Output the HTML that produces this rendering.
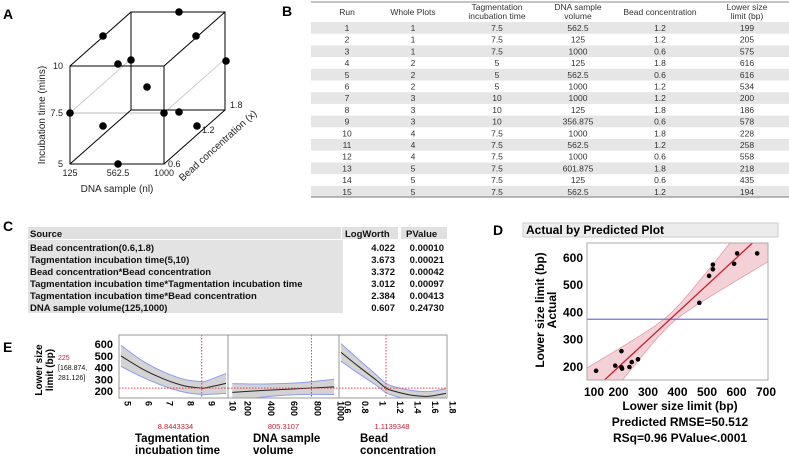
<!DOCTYPE html>
<html><head><meta charset="utf-8"><style>
html,body{margin:0;padding:0;background:#fff;}
svg{display:block;font-family:"Liberation Sans",Arial,sans-serif;}
.b{font-weight:bold;}
</style></head><body>
<svg id="fig" width="789" height="459" viewBox="0 0 789 459" xmlns="http://www.w3.org/2000/svg">
<!-- Panel A -->
<g>
<text x="3" y="19" class="b" font-size="14">A</text>
<g stroke="#000" stroke-width="1" fill="none">
<line x1="70" y1="113" x2="131" y2="59" stroke="#ccc"/>
<line x1="164" y1="113" x2="225" y2="59" stroke="#ccc"/>
<line x1="70" y1="113" x2="164" y2="113" stroke="#bbb"/>
<polyline points="131,110 131,12 225,12 225,110 131,110"/>
<line x1="70" y1="66" x2="131" y2="12"/>
<line x1="164" y1="66" x2="225" y2="12"/>
<line x1="164" y1="164" x2="225" y2="110"/>
<line x1="70" y1="164" x2="131" y2="110"/>
<rect x="70" y="66" width="94" height="98"/>
</g>
<g id="cubeDots"></g>
<g font-size="9" fill="#222">
<text x="63" y="69" text-anchor="end">10</text>
<text x="63" y="116" text-anchor="end">7.5</text>
<text x="63" y="167" text-anchor="end">5</text>
<text x="70" y="176" text-anchor="middle">125</text>
<text x="118" y="176" text-anchor="middle">562.5</text>
<text x="164" y="176" text-anchor="middle">1000</text>
<text x="168" y="167">0.6</text>
<text x="202" y="133">1.2</text>
<text x="230" y="108">1.8</text>
<text x="117" y="192" text-anchor="middle" font-size="10">DNA sample (nl)</text>
<text transform="translate(45,115) rotate(-90)" text-anchor="middle" font-size="10">Incubation time (mins)</text>
<text transform="translate(220,148) rotate(-42)" text-anchor="middle" font-size="10">Bead concentration (x)</text>
</g>
</g>
<!-- Panel B -->
<g>
<text x="282" y="16" class="b" font-size="14">B</text>
<line x1="311" y1="2" x2="789" y2="2" stroke="#888" stroke-width="1"/>
<g id="tbl" font-size="8.5" fill="#333"></g>
<line x1="311" y1="197" x2="789" y2="197" stroke="#777" stroke-width="1"/>
</g>
<!-- Panel C -->
<g>
<text x="3" y="231" class="b" font-size="14">C</text>
<rect x="28" y="227" width="313" height="12" fill="#e0e0e0"/>
<rect x="342" y="227" width="56" height="12" fill="#e0e0e0"/>
<rect x="401" y="227" width="46" height="12" fill="#e0e0e0"/>
<rect x="28" y="240" width="315" height="73" fill="#e3e3e3"/>
<g id="ctbl" class="b" font-size="9.5" fill="#111"></g>
</g>
<!-- Panel D -->
<g>
<text x="493" y="235" class="b" font-size="14">D</text>
<rect x="523" y="223" width="255" height="14" fill="#ececec" stroke="#ccc"/>
<text x="526" y="234" class="b" font-size="12">Actual by Predicted Plot</text>
<g id="dplot"></g>
<text x="680" y="410" text-anchor="middle" class="b" font-size="12">Lower size limit (bp)</text>
<text x="680" y="426" text-anchor="middle" class="b" font-size="12">Predicted RMSE=50.512</text>
<text x="680" y="442" text-anchor="middle" class="b" font-size="12">RSq=0.96 PValue&lt;.0001</text>
<text transform="translate(544,310) rotate(-90)" text-anchor="middle" class="b" font-size="12">Lower size limit (bp)</text>
<text transform="translate(556,310) rotate(-90)" text-anchor="middle" class="b" font-size="12">Actual</text>
</g>
<!-- Panel E -->
<g>
<text x="3" y="352" class="b" font-size="14">E</text>
<text transform="translate(42,370) rotate(-90)" text-anchor="middle" class="b" font-size="10">Lower size</text>
<text transform="translate(53,370) rotate(-90)" text-anchor="middle" class="b" font-size="10">limit (bp)</text>
<text x="58" y="360" font-size="7" fill="#c0203a">225</text>
<text x="58" y="370" font-size="7" fill="#111">[168.874,</text>
<text x="58" y="380" font-size="7" fill="#111">281.126]</text>
<g id="eplot"></g>
</g>
</svg>
<script>
const NS="http://www.w3.org/2000/svg";
function mk(p,t,a){const e=document.createElementNS(NS,t);for(const k in a)e.setAttribute(k,a[k]);p.appendChild(e);return e;}
// A dots
const cubeDotX=[179,103,196,118,131,226,147,70,164,179,103,197,118];
const cubeDotY=[12,36,36,64,60,61,87,113,113,112,126,126,164];
const cd=document.getElementById('cubeDots');
cubeDotX.forEach((x,i)=>{const c=mk(cd,'circle',{cx:x,cy:cubeDotY[i],r:3.8,fill:'#000'});

});
// B table
const runs=["1","2","3","4","5","6","7","8","9","10","11","12","13","14","15"];
const wholePlots=["1","1","1","2","2","2","3","3","3","4","4","4","5","5","5"];
const tagTime=["7.5","7.5","7.5","5","5","5","10","10","10","7.5","7.5","7.5","7.5","7.5","7.5"];
const dnaVol=["562.5","125","1000","125","562.5","1000","1000","125","356.875","1000","562.5","1000","601.875","125","562.5"];
const beadConc=["1.2","1.2","0.6","1.8","0.6","1.2","1.2","1.8","0.6","1.8","1.2","0.6","1.8","0.6","1.2"];
const lowerLimit=["199","205","575","616","616","534","200","186","578","228","258","558","218","435","194"];
const colX=[347,413,497,578,660,747];
const tb=document.getElementById('tbl');
[["Run"],["Whole Plots"],["Tagmentation","incubation time"],["DNA sample","volume"],["Bead concentration"],["Lower size","limit (bp)"]].forEach((h,i)=>{
 if(h.length==1){const t=mk(tb,'text',{x:colX[i],y:15,'text-anchor':'middle'});t.textContent=h[0];}
 else h.forEach((s,j)=>{const t=mk(tb,'text',{x:colX[i],y:10+j*9,'text-anchor':'middle'});t.textContent=s;});
});
runs.forEach((r,i)=>{
 const y0=22+i*11.7;
 if(i%2==0){const bg=mk(tb,'rect',{x:311,y:y0,width:478,height:11.7,fill:'#e6e6e6'});}
 [r,wholePlots[i],tagTime[i],dnaVol[i],beadConc[i],lowerLimit[i]].forEach((v,j)=>{
  const t=mk(tb,'text',{x:colX[j],y:y0+9,'text-anchor':'middle'});t.textContent=v;
  
  });
});
// C table
const sources=["Bead concentration(0.6,1.8)","Tagmentation incubation time(5,10)","Bead concentration*Bead concentration","Tagmentation incubation time*Tagmentation incubation time","Tagmentation incubation time*Bead concentration","DNA sample volume(125,1000)"];
const logWorth=["4.022","3.673","3.372","3.012","2.384","0.607"];
const pValues=["0.00010","0.00021","0.00042","0.00097","0.00413","0.24730"];
const ct=document.getElementById('ctbl');
[["Source",30,'start'],["LogWorth",345,'start'],["PValue",406,'start']].forEach(h=>{const t=mk(ct,'text',{x:h[1],y:237,'text-anchor':h[2]});t.textContent=h[0];});
sources.forEach((s,i)=>{const y=251+i*12;
 let t=mk(ct,'text',{x:30,y:y});t.textContent=s;
 t=mk(ct,'text',{x:395,y:y,'text-anchor':'end'});t.textContent=logWorth[i];
 t=mk(ct,'text',{x:444,y:y,'text-anchor':'end'});t.textContent=pValues[i];
});
// D plot
const predicted=[124,189,210,210,237,245,266,212,474,507,520,520,592,602,670];
const actual=[186,205,258,199,200,218,228,194,435,534,575,558,578,616,616];
const dXTicks=[100,200,300,400,500,600,700];
const dYTicks=[200,300,400,500,600];
const meanActual=375;
const dx=v=>589+(v-100)*(177/600), dy=v=>367-(v-200)*0.273;
const L=587,R=768,T=243,B=380;
const dp=document.getElementById('dplot');
const defs=mk(dp,'defs',{});const cp=mk(defs,'clipPath',{id:'dclip'});mk(cp,'rect',{x:L,y:T,width:R-L,height:B-T});
const g=mk(dp,'g',{'clip-path':'url(#dclip)'});
let up=[],lo=[];
for(let v=50;v<=750;v+=10){const h=Math.sqrt(400+Math.pow(0.36*(v-meanActual),2));up.push(dx(v)+','+dy(v+h));lo.unshift(dx(v)+','+dy(v-h));}
const band=mk(g,'polygon',{points:up.concat(lo).join(' '),fill:'#f2c9cf',stroke:'#e59aa6','stroke-width':0.8,'fill-opacity':0.85});

const ml=mk(g,'line',{x1:L,x2:R,y1:dy(meanActual),y2:dy(meanActual),stroke:'#6a78e8','stroke-width':1.3});

const fl=mk(g,'line',{x1:dx(50),y1:dy(50),x2:dx(750),y2:dy(750),stroke:'#c8202e','stroke-width':1.3});

predicted.forEach((p,i)=>{const c=mk(g,'circle',{cx:dx(p),cy:dy(actual[i]),r:2.3,fill:'#000'});
});
const fr=mk(dp,'rect',{x:L,y:T,width:R-L,height:B-T,fill:'none',stroke:'#aaa'});

dXTicks.forEach(v=>{const t=mk(dp,'text',{x:dx(v)+(v==100?5:0),y:396,'text-anchor':'middle','font-size':12,'font-weight':'bold'});t.textContent=v;
});
dYTicks.forEach(v=>{const t=mk(dp,'text',{x:583,y:dy(v)+4,'text-anchor':'end','font-size':12,'font-weight':'bold'});t.textContent=v;
});
// E profiler
const eYTicks=[200,300,400,500,600];
const p1X=[5,6,7,8,8.84,9,10], p1Y=[500,390,305,245,225,226,265], p1H=[90,70,60,55,55,56,85];
const p2X=[125,400,700,1000], p2Y=[188,205,220,235], p2H=[75,55,50,65];
const p3X=[0.6,0.8,1.0,1.114,1.2,1.4,1.6,1.8], p3Y=[530,410,295,225,200,165,155,180], p3H=[75,60,45,40,40,40,40,40];
const p1Ticks=[5,6,7,8,9,10], p2Ticks=[200,400,600,800,1000], p3Ticks=[0.6,0.8,1,1.2,1.4,1.6,1.8];
const currentVals=[8.8443334,805.3107,1.1139348];
const currentLabels=["8.8443334","805.3107","1.1139348"];
const predictedVal=225;
const ey=v=>391-(v-200)*0.117;
const ET=335,EB=398;
const panels=[
 {L:119,R:228,sx:v=>121+(v-5)*21,X:p1X,Y:p1Y,H:p1H,ticks:p1Ticks},
 {L:228,R:339,sx:v=>241+(v-200)*0.1164,X:p2X,Y:p2Y,H:p2H,ticks:p2Ticks},
 {L:339,R:447,sx:v=>341+(v-0.6)*87.5,X:p3X,Y:p3Y,H:p3H,ticks:p3Ticks}];
function smooth(pts){ // Catmull-Rom -> cubic bezier; pts = [[x,y],...]
 let d='M'+pts[0][0]+','+pts[0][1];
 for(let i=0;i<pts.length-1;i++){
  const p0=pts[Math.max(0,i-1)],p1=pts[i],p2=pts[i+1],p3=pts[Math.min(pts.length-1,i+2)];
  const c1=[p1[0]+(p2[0]-p0[0])/6,p1[1]+(p2[1]-p0[1])/6],c2=[p2[0]-(p3[0]-p1[0])/6,p2[1]-(p3[1]-p1[1])/6];
  d+=' C'+c1[0]+','+c1[1]+' '+c2[0]+','+c2[1]+' '+p2[0]+','+p2[1];
 }
 return d;
}
const ep=document.getElementById('eplot');
const edefs=mk(ep,'defs',{});
panels.forEach((P,k)=>{
 const c=mk(edefs,'clipPath',{id:'ec'+k});mk(c,'rect',{x:P.L,y:ET,width:P.R-P.L,height:EB-ET});
 const g=mk(ep,'g',{'clip-path':'url(#ec'+k+')'});
 
 const upP=P.X.map((x,i)=>[P.sx(x),ey(P.Y[i]+P.H[i])]);
 const loP=P.X.map((x,i)=>[P.sx(x),ey(P.Y[i]-P.H[i])]);
 const loR=loP.slice().reverse();
 const bandD=smooth(upP)+' L'+loR[0][0]+','+loR[0][1]+' '+smooth(loR).slice(1).replace(/^[^C]*/,'')+' Z';
 const bd=mk(g,'path',{d:bandD,fill:'#d3d3d3',stroke:'none'});
 
 mk(g,'path',{d:smooth(upP),fill:'none',stroke:'#8f9cf0','stroke-width':1});
 mk(g,'path',{d:smooth(loP),fill:'none',stroke:'#8f9cf0','stroke-width':1});
 const ln=mk(g,'path',{d:smooth(P.X.map((x,i)=>[P.sx(x),ey(P.Y[i])])),fill:'none',stroke:'#222','stroke-width':1});
 
 const hl=mk(g,'line',{x1:P.L,x2:P.R,y1:ey(predictedVal),y2:ey(predictedVal),stroke:'#e0404c','stroke-dasharray':'1.5,1.5','stroke-width':1});
 
 const vl=mk(g,'line',{x1:P.sx(currentVals[k]),x2:P.sx(currentVals[k]),y1:ET,y2:EB,stroke:'#e0404c','stroke-dasharray':'1.5,1.5','stroke-width':1});
 
 const fr=mk(ep,'rect',{x:P.L,y:ET,width:P.R-P.L,height:EB-ET,fill:'none',stroke:'#999'});
 
 P.ticks.forEach(v=>{const x=P.sx(v);const t=mk(ep,'text',{transform:'translate('+(x+3.5)+','+(EB+3)+') rotate(90)','font-size':9,'font-weight':'bold'});t.textContent=v;
 });
 const cx=k==2?392:(P.L+P.R)/2+(k==0?2:0);
 const cv=mk(ep,'text',{x:cx,y:429,'text-anchor':'middle','font-size':7.5,fill:'#c0203a'});cv.textContent=currentLabels[k];
 
});
eYTicks.forEach(v=>{const t=mk(ep,'text',{x:113,y:ey(v)+4,'text-anchor':'end','font-size':11,'font-weight':'bold'});t.textContent=v;
});
[[135,["Tagmentation","incubation time"]],[253,["DNA sample","volume"]],[360,["Bead","concentration"]]].forEach(f=>{
 f[1].forEach((s,j)=>{const t=mk(ep,'text',{x:f[0],y:442+j*12,'font-size':11.5,'font-weight':'bold'});t.textContent=s;
 });
});
</script>
</body></html>
